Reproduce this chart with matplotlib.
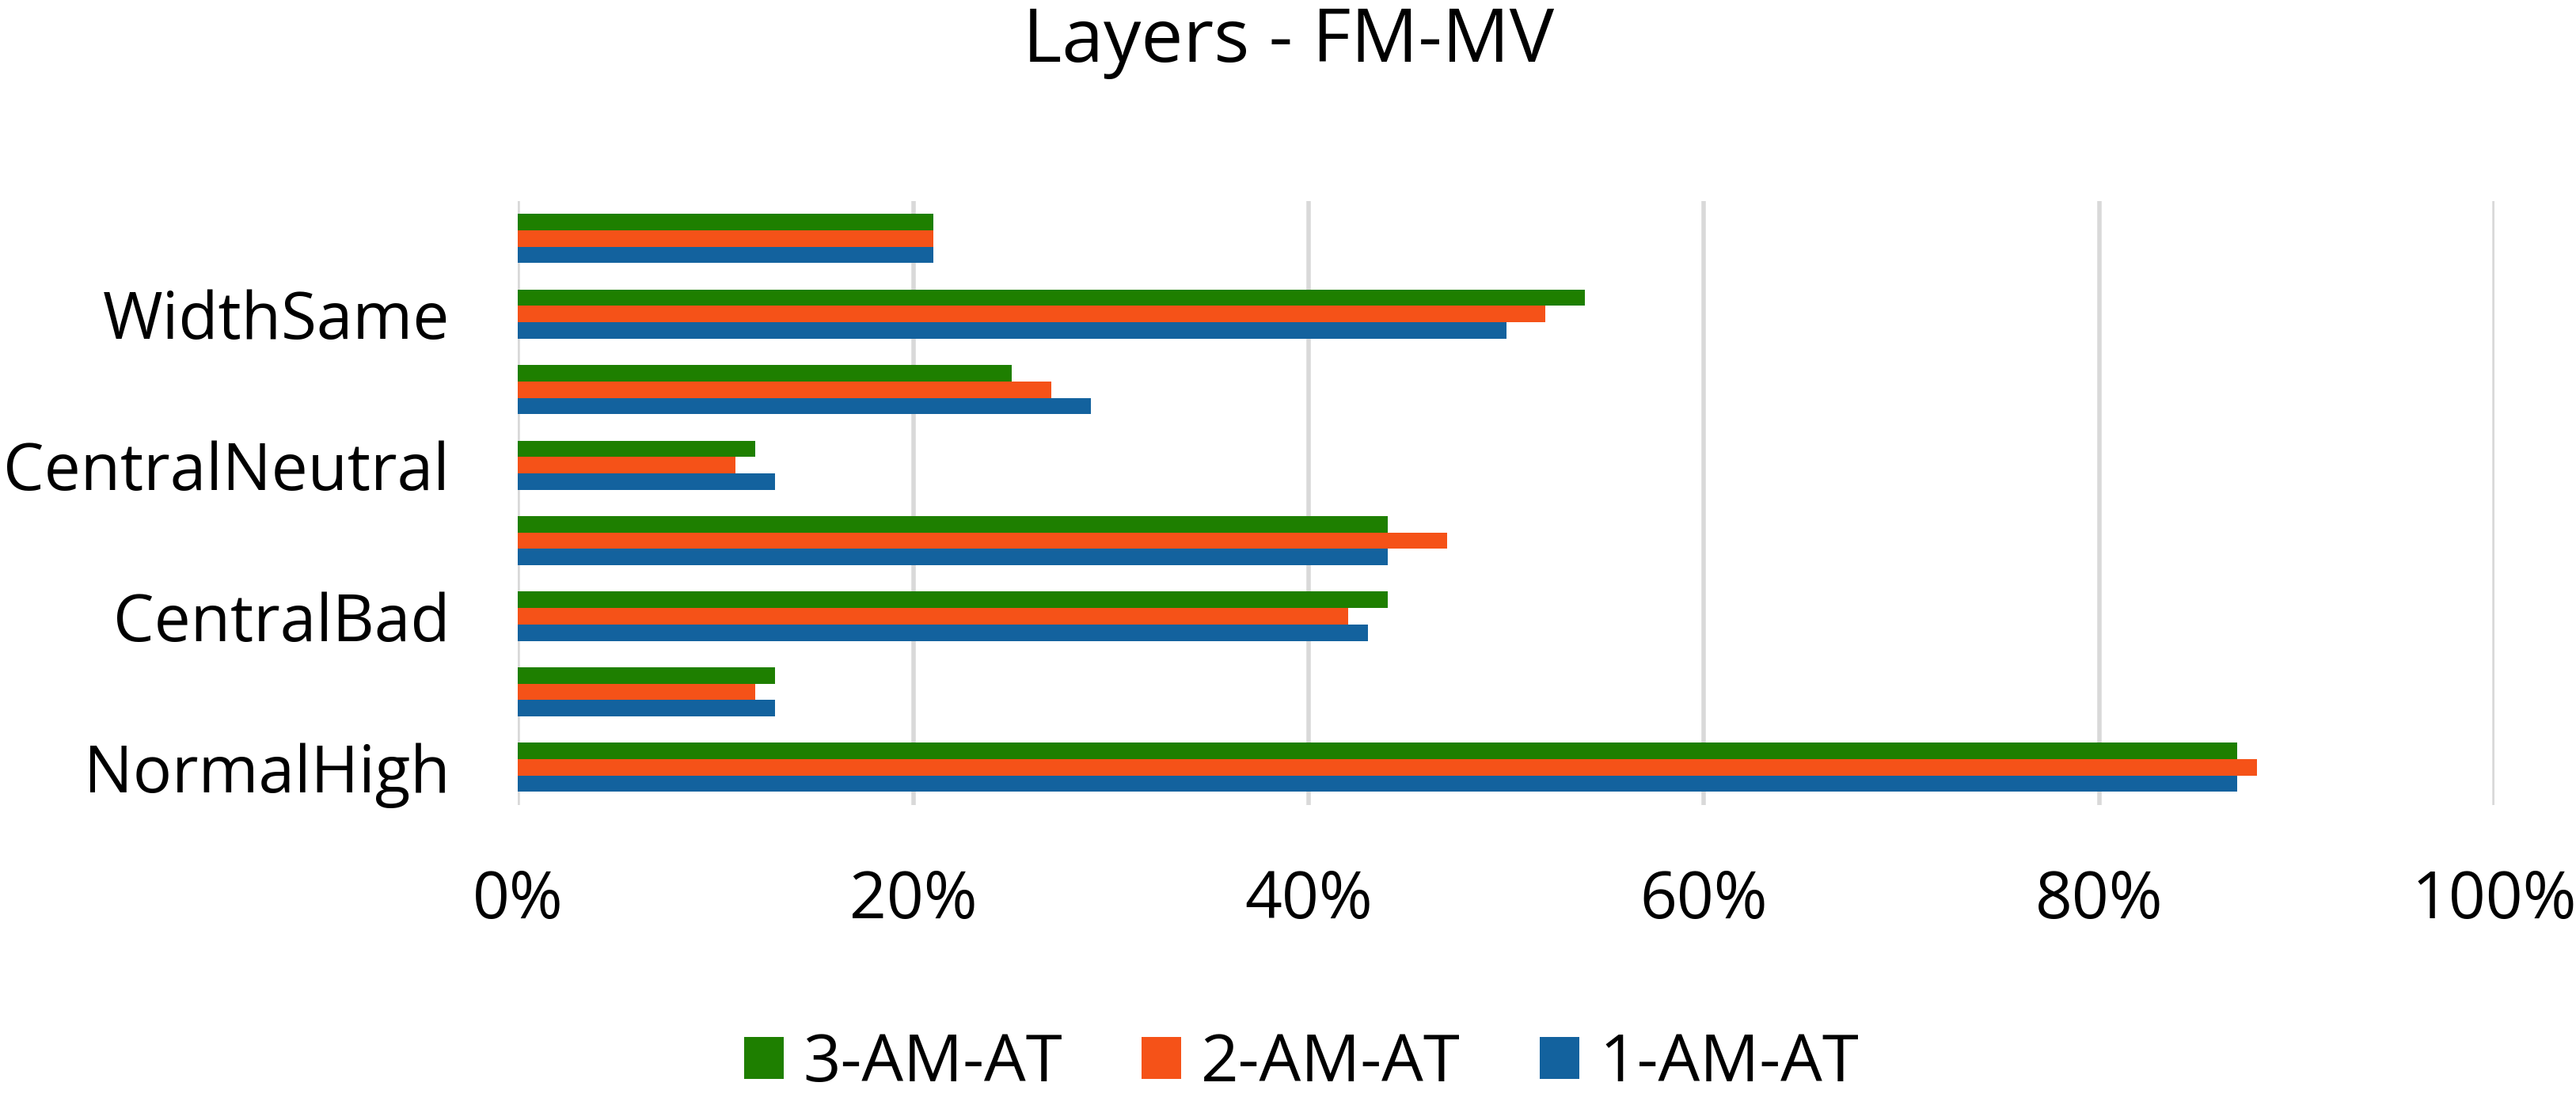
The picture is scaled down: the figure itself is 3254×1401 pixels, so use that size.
import numpy as np
import matplotlib.pyplot as plt
from matplotlib.ticker import PercentFormatter

# --- data (bottom to top) ---
categories = ['NormalHigh', 'NormalLow', 'CentralBad', 'CentralGood',
              'CentralNeutral', 'WidthDiff', 'WidthSame', 'WidthOther']
shown_labels = ['NormalHigh', '', 'CentralBad', '', 'CentralNeutral', '', 'WidthSame', '']
series_names = ['1-AM-AT', '2-AM-AT', '3-AM-AT']
am1 = [87, 13, 43, 44, 13, 29, 50, 21]
am2 = [88, 12, 42, 47, 11, 27, 52, 21]
am3 = [87, 13, 44, 44, 12, 25, 54, 21]
colors = ['#13629E', '#F55218', '#1E7F00']

plt.rcParams['font.family'] = ['Open Sans', 'DejaVu Sans']

fig = plt.figure(figsize=(32.55, 14.01), dpi=100)
ax = fig.add_axes([0.201, 0.274, 0.767, 0.545])

y = np.arange(len(categories))
h = 0.217
for i, (vals, name) in enumerate(zip([am1, am2, am3], series_names)):
    ax.barh(y + (i - 1) * h, vals, height=h, color=colors[i], label=name, zorder=3)

ax.set_xlim(0, 100)
ax.set_ylim(-0.5, len(categories) - 0.5)
ax.set_xticks(np.arange(0, 101, 20))
ax.xaxis.set_major_formatter(PercentFormatter(decimals=0))
ax.set_yticks(y)
ax.set_yticklabels(shown_labels)
ax.tick_params(axis='both', length=0, labelsize=59)
ax.tick_params(axis='x', pad=58)
ax.tick_params(axis='y', pad=62)
ax.grid(axis='x', color='#D9D9D9', linewidth=4, zorder=0)
for s in ax.spines.values():
    s.set_visible(False)

fig.suptitle('Layers - FM-MV', fontsize=68, y=0.995)

handles, labels = ax.get_legend_handles_labels()
fig.legend(handles[::-1], labels[::-1], loc='center', bbox_to_anchor=(0.505, 0.04),
           ncol=3, frameon=False, fontsize=60, handlelength=0.6, handleheight=0.6,
           columnspacing=1.2, handletextpad=0.3)

plt.savefig('out.png', dpi=100)
